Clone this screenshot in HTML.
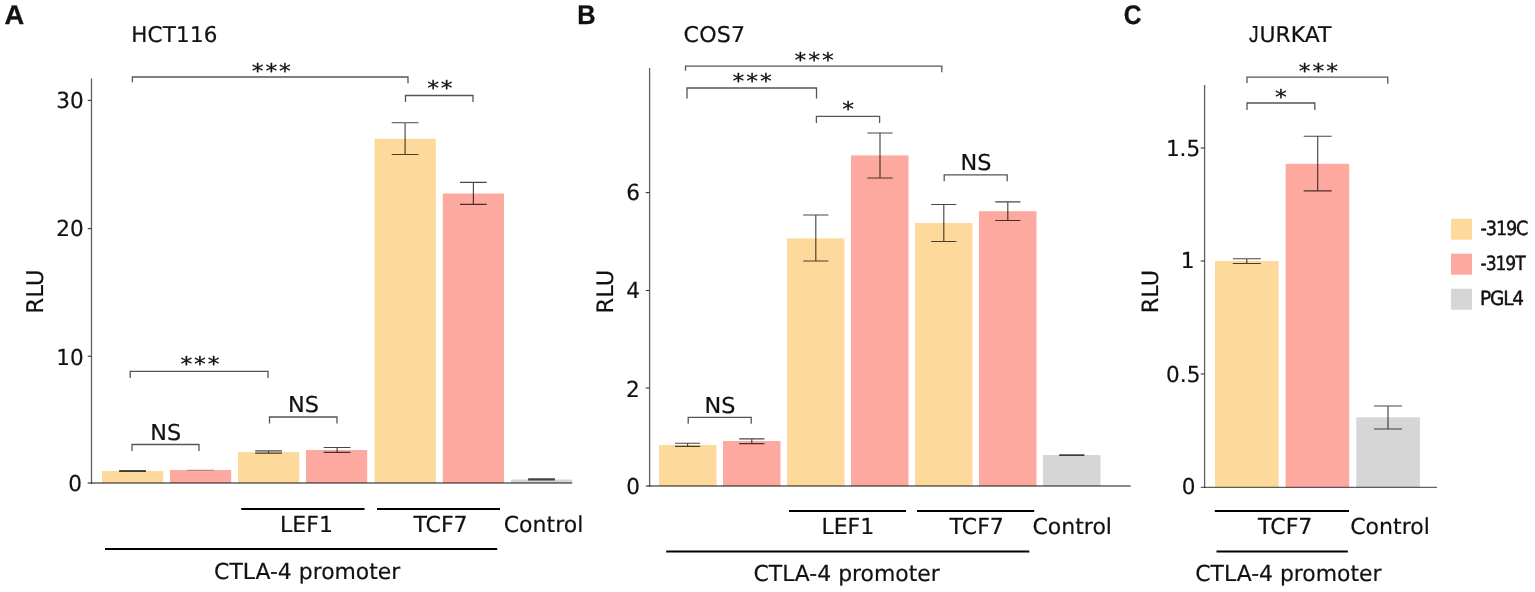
<!DOCTYPE html>
<html lang="en">
<head>
<meta charset="utf-8">
<title>Luciferase reporter assays</title>
<style>
html,body{margin:0;padding:0;background:#fff;}
body{width:1535px;height:592px;overflow:hidden;}
svg{display:block;font-family:"DejaVu Sans", "Liberation Sans", sans-serif;fill:#111;}
text{stroke:#111;stroke-width:0.2px;stroke-linejoin:round;text-rendering:geometricPrecision;}
</style>
</head>
<body>
<svg width="1535" height="592" viewBox="0 0 1535 592">
<rect x="0" y="0" width="1535" height="592" fill="#ffffff"/>
<g id="panel-a" aria-label="Panel A: HCT116">
<text transform="translate(4.5,24.0) scale(1.01,1)" font-size="27" text-anchor="start" font-weight="bold" font-family='"Liberation Sans", sans-serif' style="stroke-width:0.3px">A</text>
<text transform="translate(131.2,42) scale(0.99,1)" font-size="21.7" text-anchor="start" font-weight="normal" letter-spacing="0.2">HCT116</text>
<rect x="102" y="471" width="61.20" height="12.00" fill="#fdd99b"/>
<rect x="170" y="470" width="61.20" height="13.00" fill="#fea99f"/>
<rect x="238" y="452" width="61.20" height="31.00" fill="#fdd99b"/>
<rect x="306" y="450" width="61.20" height="33.00" fill="#fea99f"/>
<rect x="374.6" y="138.8" width="61.20" height="344.20" fill="#fdd99b"/>
<rect x="442.8" y="193.5" width="61.20" height="289.50" fill="#fea99f"/>
<rect x="511" y="479.5" width="61.20" height="3.50" fill="#d6d6d6"/>
<line x1="91.5" y1="78.4" x2="91.5" y2="483.65" stroke="#000" stroke-width="1.3" stroke-opacity="0.62"/>
<line x1="87.7" y1="483" x2="572.2" y2="483" stroke="#000" stroke-width="1.3" stroke-opacity="0.62"/>
<line x1="87.7" y1="100.4" x2="91.5" y2="100.4" stroke="#333" stroke-width="1.1"/>
<text transform="translate(83.6,108.35) scale(0.98,1)" font-size="22" text-anchor="end" font-weight="normal">30</text>
<line x1="87.7" y1="228.6" x2="91.5" y2="228.6" stroke="#333" stroke-width="1.1"/>
<text transform="translate(83.6,236.35) scale(0.98,1)" font-size="22" text-anchor="end" font-weight="normal">20</text>
<line x1="87.7" y1="356.2" x2="91.5" y2="356.2" stroke="#333" stroke-width="1.1"/>
<text transform="translate(83.6,365.0) scale(0.98,1)" font-size="22" text-anchor="end" font-weight="normal">10</text>
<text transform="translate(82.0,490.8) scale(0.98,1)" font-size="22" text-anchor="end" font-weight="normal">0</text>
<text transform="translate(43.1,291.6) rotate(-90)" font-size="23" text-anchor="middle" font-weight="normal">RLU</text>
<path d="M119.10 470.5H145.90M132.5 470.5V471.5M119.10 471.5H145.90" fill="none" stroke="#000" stroke-opacity="0.72" stroke-width="1.15"/>
<path d="M187.10 470.2H213.90" fill="none" stroke="#000" stroke-opacity="0.3" stroke-width="1.15"/>
<path d="M255.20 450.8H282.00M268.6 450.8V453.1M255.20 453.1H282.00" fill="none" stroke="#000" stroke-opacity="0.72" stroke-width="1.15"/>
<path d="M323.70 447.5H350.50M337.1 447.5V452.3M323.70 452.3H350.50" fill="none" stroke="#000" stroke-opacity="0.72" stroke-width="1.15"/>
<path d="M391.70 122.7H418.50M405.1 122.7V154.5M391.70 154.5H418.50" fill="none" stroke="#000" stroke-opacity="0.72" stroke-width="1.15"/>
<path d="M460.00 182.3H486.80M473.4 182.3V204.3M460.00 204.3H486.80" fill="none" stroke="#000" stroke-opacity="0.72" stroke-width="1.15"/>
<path d="M528.10 478.7H554.90M541.5 478.7V479.8M528.10 479.8H554.90" fill="none" stroke="#000" stroke-opacity="0.72" stroke-width="1.15"/>
<path d="M132.4 82.2V77H408V83.3" fill="none" stroke="#555" stroke-width="1.3"/>
<text transform="translate(272.25865,77.5) scale(1.162,1)" font-size="20.3" text-anchor="middle" font-weight="normal" letter-spacing="1.65" style="stroke-width:0.25px">***</text>
<path d="M405.5 102.0V95.5H473V102.0" fill="none" stroke="#555" stroke-width="1.3"/>
<text transform="translate(440.85865,95.4) scale(1.162,1)" font-size="20.3" text-anchor="middle" font-weight="normal" letter-spacing="1.65" style="stroke-width:0.25px">**</text>
<path d="M130.2 377.9V371.4H268V377.9" fill="none" stroke="#555" stroke-width="1.3"/>
<text transform="translate(200.95865,370.9) scale(1.162,1)" font-size="20.3" text-anchor="middle" font-weight="normal" letter-spacing="1.65" style="stroke-width:0.25px">***</text>
<path d="M132 451.0V444.5H199V451.0" fill="none" stroke="#555" stroke-width="1.3"/>
<text transform="translate(165.7,439.5) scale(1.025,1)" font-size="21.8" text-anchor="middle" font-weight="normal">NS</text>
<path d="M269.5 423.5V417H337V423.5" fill="none" stroke="#555" stroke-width="1.3"/>
<text transform="translate(303.45,412) scale(1.025,1)" font-size="21.8" text-anchor="middle" font-weight="normal">NS</text>
<line x1="241.2" y1="509" x2="364.5" y2="509" stroke="#000" stroke-width="2.1"/>
<text transform="translate(306.5,532.3)" font-size="22" text-anchor="middle" font-weight="normal">LEF1</text>
<line x1="377" y1="509" x2="500" y2="509" stroke="#000" stroke-width="2.1"/>
<text transform="translate(440.5,532.3)" font-size="22" text-anchor="middle" font-weight="normal">TCF7</text>
<text transform="translate(543.5,532.3)" font-size="22" text-anchor="middle" font-weight="normal">Control</text>
<line x1="105" y1="549.0" x2="497.2" y2="549.0" stroke="#000" stroke-width="2.1"/>
<text transform="translate(307.2,579.3) scale(0.995,1)" font-size="22" text-anchor="middle" font-weight="normal">CTLA-4 promoter</text>
</g>
<g id="panel-b" aria-label="Panel B: COS7">
<text transform="translate(577.3,24.0) scale(0.94,1)" font-size="27" text-anchor="start" font-weight="bold" font-family='"Liberation Sans", sans-serif' style="stroke-width:0.3px">B</text>
<text transform="translate(683.6,42) scale(1.02,1)" font-size="21.7" text-anchor="start" font-weight="normal" letter-spacing="0.2">COS7</text>
<rect x="659" y="445" width="57.50" height="41.00" fill="#fdd99b"/>
<rect x="723" y="441" width="57.50" height="45.00" fill="#fea99f"/>
<rect x="787" y="238.4" width="57.50" height="247.60" fill="#fdd99b"/>
<rect x="851" y="155.4" width="57.50" height="330.60" fill="#fea99f"/>
<rect x="915" y="223" width="57.50" height="263.00" fill="#fdd99b"/>
<rect x="979" y="211.2" width="57.50" height="274.80" fill="#fea99f"/>
<rect x="1043" y="455" width="57.50" height="31.00" fill="#d6d6d6"/>
<line x1="649.6" y1="68" x2="649.6" y2="486.65" stroke="#000" stroke-width="1.3" stroke-opacity="0.62"/>
<line x1="645.8000000000001" y1="486" x2="1130.8" y2="486" stroke="#000" stroke-width="1.3" stroke-opacity="0.62"/>
<line x1="645.8000000000001" y1="192.6" x2="649.6" y2="192.6" stroke="#333" stroke-width="1.1"/>
<text transform="translate(639.9,200.4) scale(0.98,1)" font-size="22" text-anchor="end" font-weight="normal">6</text>
<line x1="645.8000000000001" y1="290.5" x2="649.6" y2="290.5" stroke="#333" stroke-width="1.1"/>
<text transform="translate(639.9,298.4) scale(0.98,1)" font-size="22" text-anchor="end" font-weight="normal">4</text>
<line x1="645.8000000000001" y1="388.0" x2="649.6" y2="388.0" stroke="#333" stroke-width="1.1"/>
<text transform="translate(639.7,396.7) scale(0.98,1)" font-size="22" text-anchor="end" font-weight="normal">2</text>
<text transform="translate(639.9,494.1) scale(0.98,1)" font-size="22" text-anchor="end" font-weight="normal">0</text>
<text transform="translate(612.6,291.6) rotate(-90)" font-size="22.6" text-anchor="middle" font-weight="normal">RLU</text>
<path d="M675.00 443.2H700.20M687.6 443.2V446.3M675.00 446.3H700.20" fill="none" stroke="#000" stroke-opacity="0.72" stroke-width="1.15"/>
<path d="M739.20 438.8H764.40M751.8 438.8V443.6M739.20 443.6H764.40" fill="none" stroke="#000" stroke-opacity="0.72" stroke-width="1.15"/>
<path d="M803.20 215H828.40M815.8 215V261M803.20 261H828.40" fill="none" stroke="#000" stroke-opacity="0.72" stroke-width="1.15"/>
<path d="M867.40 133H892.60M880 133V178M867.40 178H892.60" fill="none" stroke="#000" stroke-opacity="0.72" stroke-width="1.15"/>
<path d="M931.20 204.5H956.40M943.8 204.5V241.5M931.20 241.5H956.40" fill="none" stroke="#000" stroke-opacity="0.72" stroke-width="1.15"/>
<path d="M995.20 201.8H1020.40M1007.8 201.8V220.5M995.20 220.5H1020.40" fill="none" stroke="#000" stroke-opacity="0.72" stroke-width="1.15"/>
<path d="M1059.20 454.7H1084.40M1071.8 454.7V455.4M1059.20 455.4H1084.40" fill="none" stroke="#000" stroke-opacity="0.72" stroke-width="1.15"/>
<path d="M685.5 70.7V66.2H941.8V72.2" fill="none" stroke="#555" stroke-width="1.3"/>
<text transform="translate(815.0586500000001,66.7) scale(1.162,1)" font-size="20.3" text-anchor="middle" font-weight="normal" letter-spacing="1.65" style="stroke-width:0.25px">***</text>
<path d="M687 98.5V88H816.5V98.5" fill="none" stroke="#555" stroke-width="1.3"/>
<text transform="translate(753.0586500000001,87.7) scale(1.162,1)" font-size="20.3" text-anchor="middle" font-weight="normal" letter-spacing="1.65" style="stroke-width:0.25px">***</text>
<path d="M816.4 122.9V116.4H879.6V122.9" fill="none" stroke="#555" stroke-width="1.3"/>
<text transform="translate(849.0586500000001,115.9) scale(1.162,1)" font-size="20.3" text-anchor="middle" font-weight="normal" letter-spacing="1.65" style="stroke-width:0.25px">*</text>
<path d="M944.2 181.3V174.8H1007.2V181.3" fill="none" stroke="#555" stroke-width="1.3"/>
<text transform="translate(975.9000000000001,169.8) scale(1.025,1)" font-size="21.8" text-anchor="middle" font-weight="normal">NS</text>
<path d="M688.2 423.8V417.3H751.2V423.8" fill="none" stroke="#555" stroke-width="1.3"/>
<text transform="translate(719.9000000000001,412.9) scale(1.025,1)" font-size="21.8" text-anchor="middle" font-weight="normal">NS</text>
<line x1="789" y1="511" x2="906" y2="511" stroke="#000" stroke-width="2.1"/>
<text transform="translate(847.8,534.4)" font-size="22" text-anchor="middle" font-weight="normal">LEF1</text>
<line x1="917" y1="511" x2="1034.2" y2="511" stroke="#000" stroke-width="2.1"/>
<text transform="translate(976.7,534.4)" font-size="22" text-anchor="middle" font-weight="normal">TCF7</text>
<text transform="translate(1072.2,534.4)" font-size="22" text-anchor="middle" font-weight="normal">Control</text>
<line x1="666.2" y1="551.5" x2="1029.3" y2="551.5" stroke="#000" stroke-width="2.1"/>
<text transform="translate(846.6,581.4) scale(0.995,1)" font-size="22" text-anchor="middle" font-weight="normal">CTLA-4 promoter</text>
</g>
<g id="panel-c" aria-label="Panel C: JURKAT">
<text transform="translate(1123.8,23.8) scale(0.91,1)" font-size="27" text-anchor="start" font-weight="bold" font-family='"Liberation Sans", sans-serif' style="stroke-width:0.3px">C</text>
<text transform="translate(1249,42)" font-size="21.7"><tspan font-family='"Liberation Sans", sans-serif' font-size="23.2" textLength="9.6" lengthAdjust="spacingAndGlyphs">J</tspan><tspan x="10.4" textLength="72.1" lengthAdjust="spacingAndGlyphs">URKAT</tspan></text>
<rect x="1215" y="261" width="63.60" height="226.30" fill="#fdd99b"/>
<rect x="1285.6" y="163.8" width="63.60" height="323.50" fill="#fea99f"/>
<rect x="1356.3" y="417.3" width="63.60" height="70.00" fill="#d6d6d6"/>
<line x1="1204.6" y1="85" x2="1204.6" y2="487.95" stroke="#000" stroke-width="1.3" stroke-opacity="0.62"/>
<line x1="1200.8" y1="487.3" x2="1437" y2="487.3" stroke="#000" stroke-width="1.3" stroke-opacity="0.62"/>
<line x1="1200.8" y1="148" x2="1204.6" y2="148" stroke="#333" stroke-width="1.1"/>
<text transform="translate(1200.2,156.0) scale(0.98,1)" font-size="22" text-anchor="end" font-weight="normal">1.5</text>
<line x1="1200.8" y1="261" x2="1204.6" y2="261" stroke="#333" stroke-width="1.1"/>
<text transform="translate(1194.4,267.5) scale(0.98,1)" font-size="22" text-anchor="end" font-weight="normal">1</text>
<line x1="1200.8" y1="374" x2="1204.6" y2="374" stroke="#333" stroke-width="1.1"/>
<text transform="translate(1200.4,381.9) scale(0.98,1)" font-size="22" text-anchor="end" font-weight="normal">0.5</text>
<text transform="translate(1195.5,494.1) scale(0.98,1)" font-size="22" text-anchor="end" font-weight="normal">0</text>
<text transform="translate(1158.3,291.6) rotate(-90)" font-size="22.4" text-anchor="middle" font-weight="normal">RLU</text>
<path d="M1232.80 258.7H1260.80M1246.8 258.7V263.5M1232.80 263.5H1260.80" fill="none" stroke="#000" stroke-opacity="0.72" stroke-width="1.15"/>
<path d="M1303.70 136.2H1331.70M1317.7 136.2V190.8M1303.70 190.8H1331.70" fill="none" stroke="#000" stroke-opacity="0.72" stroke-width="1.15"/>
<path d="M1374.00 406H1402.00M1388 406V429M1374.00 429H1402.00" fill="none" stroke="#000" stroke-opacity="0.72" stroke-width="1.15"/>
<path d="M1247 83.0V77.2H1387.8V83.8" fill="none" stroke="#555" stroke-width="1.3"/>
<text transform="translate(1319.35865,78.2) scale(1.162,1)" font-size="20.3" text-anchor="middle" font-weight="normal" letter-spacing="1.65" style="stroke-width:0.25px">***</text>
<path d="M1247 110V103H1314.8V110" fill="none" stroke="#555" stroke-width="1.3"/>
<text transform="translate(1281.95865,104.30000000000001) scale(1.162,1)" font-size="20.3" text-anchor="middle" font-weight="normal" letter-spacing="1.65" style="stroke-width:0.25px">*</text>
<line x1="1214.8" y1="511" x2="1349" y2="511" stroke="#000" stroke-width="2.1"/>
<text transform="translate(1285.2,534.4)" font-size="22" text-anchor="middle" font-weight="normal">TCF7</text>
<text transform="translate(1390,534.4)" font-size="22" text-anchor="middle" font-weight="normal">Control</text>
<line x1="1216.5" y1="551.5" x2="1347.8" y2="551.5" stroke="#000" stroke-width="2.1"/>
<text transform="translate(1288.4,581.4) scale(0.995,1)" font-size="22" text-anchor="middle" font-weight="normal">CTLA-4 promoter</text>
</g>
<g id="legend" aria-label="Legend">
<rect x="1451" y="218.7" width="21.00" height="21.00" fill="#fdd99b"/>
<text transform="translate(1480.6,235.1) scale(0.9,1)" font-size="19.6" text-anchor="start" font-weight="normal" letter-spacing="-1.25" style="stroke-width:0.45px">-319C</text>
<rect x="1451" y="253.7" width="21.00" height="21.00" fill="#fea99f"/>
<text transform="translate(1480.6,270.09999999999997) scale(0.875,1)" font-size="19.6" text-anchor="start" font-weight="normal" letter-spacing="-1.25" style="stroke-width:0.45px">-319T</text>
<rect x="1451" y="288.7" width="21.00" height="21.00" fill="#d6d6d6"/>
<text transform="translate(1480.0,305.09999999999997) scale(0.945,1)" font-size="19.6" text-anchor="start" font-weight="normal" letter-spacing="-1.25" style="stroke-width:0.45px">PGL4</text>
</g>
</svg>
</body>
</html>
